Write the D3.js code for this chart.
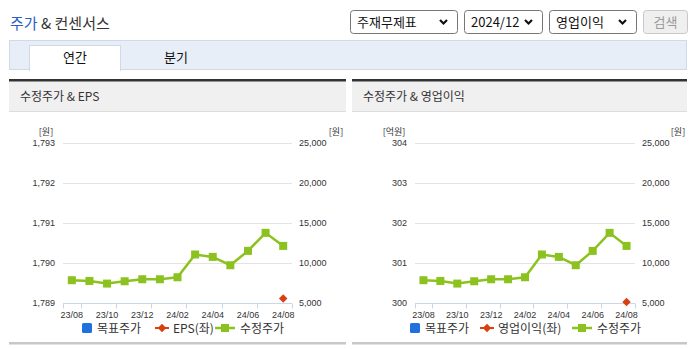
<!DOCTYPE html>
<html>
<head>
<meta charset="utf-8">
<script src="https://cdn.jsdelivr.net/npm/d3@7"></script>
<style>
  body { margin: 0; background: #fff; }
  svg { display: block; }
  .kr { font-family: "Noto Sans CJK KR", "Noto Sans", sans-serif; }
  .num { font-family: "Liberation Sans", Arial, sans-serif; }
</style>
</head>
<body>
<div id="container"></div>
<script>
// data
const months = ["23/08","23/09","23/10","23/11","23/12","24/01","24/02","24/03","24/04","24/05","24/06","24/07","24/08"];
const price = [7880, 7790, 7460, 7750, 8000, 8000, 8250, 11090, 10790, 9750, 11540, 13790, 12160];
const eps = [null, null, null, null, null, null, null, null, null, null, null, null, 1789.12];
const opProfit = [null, null, null, null, null, null, null, null, null, null, null, null, 300.03];
const epsTicks = [1789, 1790, 1791, 1792, 1793];
const profitTicks = [300, 301, 302, 303, 304];
const priceTicks = [5000, 10000, 15000, 20000, 25000];

const w = 695, h = 349;
const green = "#8cc21f", red = "#d9400f", blue = "#2170e0";

let svg = d3.select("#container").append("svg")
  .attr("width", w)
  .attr("height", h);

// ---- top bar
let title = svg.append("text").attr("class", "kr")
  .attr("x", 10).attr("y", 29)
  .attr("font-size", 15);
title.append("tspan").attr("fill", "#2a5fc4").text("주가");
title.append("tspan").attr("fill", "#333").text(" & 컨센서스");

let selects = [
  {x: 350, w: 108, label: "주재무제표"},
  {x: 464, w: 79, label: "2024/12"},
  {x: 549, w: 88, label: "영업이익"}
];
selects.forEach(s => {
  let g = svg.append("g").attr("transform", `translate(${s.x},10)`);
  g.append("rect").attr("x", 0.5).attr("y", 0.5).attr("width", s.w - 1).attr("height", 23)
    .attr("rx", 3).attr("fill", "#fff").attr("stroke", "#767676");
  g.append("text").attr("class", "kr").attr("x", 7).attr("y", 17)
    .attr("font-size", 13).attr("fill", "#111").text(s.label);
  g.append("path").attr("d", `M${s.w-18},10 l3.5,3.5 l3.5,-3.5`)
    .attr("fill", "none").attr("stroke", "#111").attr("stroke-width", 2.2);
});
svg.append("rect").attr("x", 643.5).attr("y", 10.5).attr("width", 44).attr("height", 23)
  .attr("rx", 3).attr("fill", "#efefef").attr("stroke", "#c8c8c8");
svg.append("text").attr("class", "kr").attr("x", 665.5).attr("y", 27)
  .attr("text-anchor", "middle").attr("font-size", 13).attr("fill", "#9a9a9a").text("검색");

// ---- tabs
svg.append("rect").attr("x", 9.5).attr("y", 40.5).attr("width", 677).attr("height", 29)
  .attr("fill", "#e8eef8").attr("stroke", "#d0d9e6");
svg.append("rect").attr("x", 29.5).attr("y", 45.5).attr("width", 91).attr("height", 25)
  .attr("fill", "#fff").attr("stroke", "#d0d9e6");
svg.append("rect").attr("x", 30).attr("y", 68).attr("width", 90).attr("height", 3).attr("fill", "#fff");
svg.append("text").attr("class", "kr").attr("x", 75).attr("y", 62)
  .attr("text-anchor", "middle").attr("font-size", 13).attr("fill", "#111").text("연간");
svg.append("text").attr("class", "kr").attr("x", 176).attr("y", 62)
  .attr("text-anchor", "middle").attr("font-size", 13).attr("fill", "#111").text("분기");

// ---- one chart panel
function drawPanel(opt) {
  let g = svg.append("g");
  g.append("rect").attr("x", opt.px).attr("y", 81).attr("width", opt.pw).attr("height", 31).attr("fill", "#f0f0f0");
  g.append("rect").attr("x", opt.px).attr("y", 79).attr("width", opt.pw).attr("height", 2.5).attr("fill", "#333");
  g.append("rect").attr("x", opt.px).attr("y", 111).attr("width", opt.pw).attr("height", 1).attr("fill", "#ddd");
  g.append("rect").attr("x", opt.px).attr("y", 342).attr("width", opt.pw).attr("height", 2.5).attr("fill", "#c8c8c8");
  g.append("text").attr("class", "kr").attr("x", opt.px + 11).attr("y", 101)
    .attr("font-size", 12).attr("fill", "#333").text(opt.title);

  let x = d3.scaleBand().domain(months).range([opt.x0, opt.x1]);
  let yL = d3.scaleLinear().domain(d3.extent(opt.leftTicks)).range([303.3, 143]);
  let yR = d3.scaleLinear().domain(d3.extent(priceTicks)).range([303.3, 143]);
  let cx = m => x(m) + x.bandwidth() / 2;

  // grid
  g.selectAll(".grid").data(opt.leftTicks.slice(1)).enter().append("line")
    .attr("x1", opt.x0).attr("x2", opt.x1)
    .attr("y1", d => Math.round(yL(d)) + 0.5).attr("y2", d => Math.round(yL(d)) + 0.5)
    .attr("stroke", "#e3e3e3");

  // x axis line + ticks
  let yb = Math.round(yL(opt.leftTicks[0])) + 0.5;
  g.append("line").attr("x1", opt.x0).attr("x2", opt.x1).attr("y1", yb).attr("y2", yb).attr("stroke", "#ccd6eb");
  let tickX = [opt.x0].concat(months.filter((m, i) => i % 2 == 1).map(m => x(m))).concat([opt.x1]);
  g.selectAll(".tk").data(tickX).enter().append("line")
    .attr("x1", d => Math.round(d) + 0.5).attr("x2", d => Math.round(d) + 0.5)
    .attr("y1", yb).attr("y2", yb + 5).attr("stroke", "#ccd6eb");
  g.selectAll(".xl").data(months.filter((m, i) => i % 2 == 0)).enter().append("text")
    .attr("class", "num").attr("x", cx).attr("y", 318)
    .attr("text-anchor", "middle").attr("font-size", 9).attr("fill", "#333").text(d => d);

  // y labels
  let fmt = d3.format(",");
  g.selectAll(".yl").data(opt.leftTicks).enter().append("text")
    .attr("class", "num").attr("x", opt.lx).attr("y", d => yL(d) + 3)
    .attr("text-anchor", "end").attr("font-size", 9).attr("fill", "#333").text(d => fmt(d));
  g.selectAll(".yr").data(priceTicks).enter().append("text")
    .attr("class", "num").attr("x", opt.rx).attr("y", d => yR(d) + 3)
    .attr("text-anchor", "start").attr("font-size", 9).attr("fill", "#333").text(d => fmt(d));
  g.append("text").attr("class", "kr").attr("x", opt.lux).attr("y", 135)
    .attr("text-anchor", "middle").attr("font-size", 9).attr("fill", "#333").text(opt.leftUnit);
  g.append("text").attr("class", "kr").attr("x", opt.rux).attr("y", 135)
    .attr("text-anchor", "middle").attr("font-size", 9).attr("fill", "#333").text("[원]");

  // price line
  let line = d3.line().x((d, i) => cx(months[i])).y(d => yR(d));
  g.append("path").attr("d", line(price)).attr("fill", "none")
    .attr("stroke", green).attr("stroke-width", 2.5);
  g.selectAll(".sq").data(price).enter().append("rect")
    .attr("x", (d, i) => cx(months[i]) - 4).attr("y", d => yR(d) - 4)
    .attr("width", 8).attr("height", 8).attr("fill", green);

  // left series (single point), diamond = rotated square
  g.selectAll(".dm").data(opt.leftData.map((v, i) => ({v, m: months[i]})).filter(d => d.v != null))
    .enter().append("rect")
    .attr("x", -3).attr("y", -3).attr("width", 6).attr("height", 6)
    .attr("transform", d => `translate(${cx(d.m)},${yL(d.v)}) rotate(45)`)
    .attr("fill", red);

  // legend
  let lg = g.append("g").attr("transform", `translate(0,328)`);
  lg.append("rect").attr("x", opt.leg[0]).attr("y", -5).attr("width", 10).attr("height", 10).attr("rx", 1.5).attr("fill", blue);
  lg.append("text").attr("class", "kr").attr("x", opt.leg[0] + 15).attr("y", 4.5)
    .attr("font-size", 12).attr("fill", "#333").text("목표주가");
  lg.append("line").attr("x1", opt.leg[1]).attr("x2", opt.leg[1] + 14).attr("stroke", red).attr("stroke-width", 2);
  lg.append("rect").attr("x", -3).attr("y", -3).attr("width", 6).attr("height", 6)
    .attr("transform", `translate(${opt.leg[1] + 7},0) rotate(45)`).attr("fill", red);
  lg.append("text").attr("class", "kr").attr("x", opt.leg[1] + 18).attr("y", 4.5)
    .attr("font-size", 12).attr("fill", "#333").text(opt.legName);
  lg.append("line").attr("x1", opt.leg[2]).attr("x2", opt.leg[2] + 20).attr("stroke", green).attr("stroke-width", 2.5);
  lg.append("rect").attr("x", opt.leg[2] + 6).attr("y", -4).attr("width", 8).attr("height", 8).attr("fill", green);
  lg.append("text").attr("class", "kr").attr("x", opt.leg[2] + 25).attr("y", 4.5)
    .attr("font-size", 12).attr("fill", "#333").text("수정주가");
}

drawPanel({
  px: 9, pw: 337, title: "수정주가 & EPS",
  x0: 63, x1: 292, lx: 55, rx: 299, lux: 46, rux: 336,
  leftTicks: epsTicks, leftData: eps, leftUnit: "[원]",
  leg: [82, 155, 215], legName: "EPS(좌)"
});
drawPanel({
  px: 352, pw: 335, title: "수정주가 & 영업이익",
  x0: 415, x1: 635, lx: 407, rx: 642, lux: 394, rux: 678,
  leftTicks: profitTicks, leftData: opProfit, leftUnit: "[억원]",
  leg: [410, 480, 572], legName: "영업이익(좌)"
});
</script>
</body>
</html>
